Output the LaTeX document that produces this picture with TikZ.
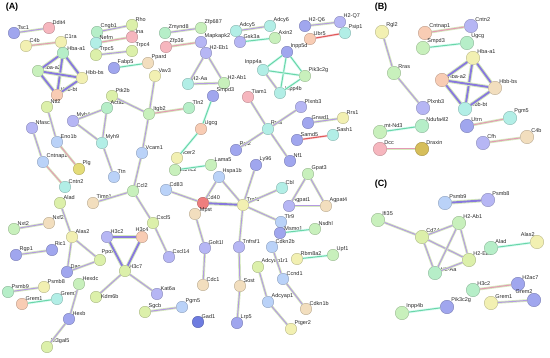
\documentclass[tikz,border=0pt]{standalone}
\usepackage{fontspec}
\setmainfont{Liberation Sans}
\definecolor{lav}{HTML}{B6B6F4}
\definecolor{blu}{HTML}{A0A6EE}
\definecolor{dblu}{HTML}{6E7CE0}
\definecolor{lblu}{HTML}{BAD2F8}
\definecolor{cyn}{HTML}{B2EEE6}
\definecolor{lgrn}{HTML}{C8F0BC}
\definecolor{grn}{HTML}{B6EEC8}
\definecolor{ygrn}{HTML}{DCF0AA}
\definecolor{yel}{HTML}{F2F0B2}
\definecolor{dyel}{HTML}{E4DC78}
\definecolor{tan}{HTML}{F2DEBE}
\definecolor{pch}{HTML}{F8CCB4}
\definecolor{pnk}{HTML}{F6B6BE}
\definecolor{rd}{HTML}{EE7E7E}
\definecolor{olv}{HTML}{D6BE5A}
\definecolor{epur}{HTML}{B49AE2}
\definecolor{ehalo}{HTML}{D6EABE}
\definecolor{egrn}{HTML}{6AD6A8}
\definecolor{epnk}{HTML}{E49AB4}
\definecolor{ered}{HTML}{E05A5A}
\definecolor{ethk}{HTML}{8878DE}
\newcommand\gn[5][45]{\node[gene,fill=#5,draw=#5!78!black,label={[lbl]#1:#4}] (#2) at (#3) {};}
\begin{document}
\begin{tikzpicture}[x=1pt,y=-1pt,
  gene/.style={circle,minimum size=11.5pt,inner sep=0pt,line width=0.4pt},
  big/.style={gene/.append style={minimum size=13.5pt}},
  lbl/.style={font=\fontsize{5.5}{6}\selectfont,inner sep=0.3pt,text=black!85},
  label distance=-1.4pt,
  e/.style={draw=epur,line width=1pt,preaction={draw=ehalo,line width=2.6pt}},
  eg/.style={draw=egrn,line width=1pt,preaction={draw=ehalo!60!cyan!30,line width=2.6pt}},
  ep/.style={draw=epnk,line width=1pt,preaction={draw=ehalo,line width=2.6pt}},
  er/.style={draw=ered,line width=1.1pt,preaction={draw=pnk!50,line width=2.4pt}},
  et/.style={draw=ethk,line width=1.9pt,preaction={draw=ehalo,line width=3.8pt}},
  panel/.style={font=\bfseries\fontsize{9}{10}\selectfont,inner sep=0pt}]
\useasboundingbox (0,0) rectangle (550,358);
\node[panel] (pA) at (12,7) {(A)};
\node[panel] (pB) at (381,7) {(B)};
\node[panel] (pC) at (381,184) {(C)};
% ---------------- Panel A nodes
\gn{aTsc1}{14,33}{Tsc1}{blu}
\gn{aDdit4}{49,28}{Ddit4}{pnk}
\gn{aC4b}{26,46}{C4b}{yel}
\gn{aC1ra}{61,42}{C1ra}{yel}
\gn[30]{aHbaa1}{63,53}{Hba-a1}{grn}
\gn[15]{aHbaa2}{38,71}{Hba-a2}{lgrn}
\gn[40]{aHbbbs}{82,78}{Hbb-bs}{yel}
\gn{aHbbbt}{57,95}{Hbb-bt}{pch}
\gn{aCngb1}{97,32}{Cngb1}{grn}
\gn{aNefm}{96,43}{Nefm}{cyn}
\gn{aTrpc5}{96,55}{Trpc5}{ygrn}
\gn{aRho}{132,25}{Rho}{ygrn}
\gn{aIna}{132,37}{Ina}{pnk}
\gn{aTrpc4}{132,51}{Trpc4}{ygrn}
\gn{aFabp5}{114,68}{Fabp5}{blu}
\gn{aPpard}{148,63}{Ppard}{tan}
\gn{aVav3}{155,76}{Vav3}{yel}
\gn{aPtk2b}{112,96}{Ptk2b}{ygrn}
\gn{aZmynd8}{165,33}{Zmynd8}{grn}
\gn{aZfp36}{166,47}{Zfp36}{pnk}
\gn{aZfp687}{201,28}{Zfp687}{lgrn}
\gn{aMapkapk2}{201,42}{Mapkapk2}{lav}
\gn{aH2Eb1}{206,53}{H2-Eb1}{lav}
\gn{aH2Aa}{188,84}{H2-Aa}{cyn}
\gn{aH2Ab1}{224,83}{H2-Ab1}{lgrn}
\gn{aSmpd3}{213,96}{Smpd3}{blu}
\gn{aAdcy5}{236,31}{Adcy5}{cyn}
\gn{aAdcy6}{270,26}{Adcy6}{cyn}
\gn{aGsk3a}{240,42}{Gsk3a}{lav}
\gn{aAxin2}{275,38}{Axin2}{lgrn}
\gn{aH2Q6}{305,26}{H2-Q6}{blu}
\gn{aH2Q7}{340,22}{H2-Q7}{lav}
\gn{aUbr5}{310,39}{Ubr5}{pch}
\gn{aPsip1}{345,33}{Psip1}{cyn}
\gn{aInpp5d}{287,52}{Inpp5d}{blu}
\gn[100]{aInpp4a}{263,70}{Inpp4a}{cyn}
\gn{aPik3c2g}{305,76}{Pik3c2g}{lgrn}
\gn[10]{aInpp4b}{280,93}{Inpp4b}{cyn}
\gn{aTiam1}{248,97}{Tiam1}{pnk}
\gn{aNtl2}{47,107}{Ntl2}{ygrn}
\gn{aNfasc}{32,128}{Nfasc}{lav}
\gn{aEno1b}{57,142}{Eno1b}{lblu}
\gn{aCntnap1}{43,162}{Cntnap1}{lblu}
\gn{aPlg}{79,169}{Plg}{dyel}
\gn{aCntn2}{65,187}{Cntn2}{cyn}
\gn{aMyh4}{73,121}{Myh4}{lav}
\gn{aActa2}{107,108}{Acta2}{grn}
\gn{aMyh9}{102,143}{Myh9}{cyn}
\gn{aTtn}{114,177}{Ttn}{lblu}
\gn[30]{aItgb2}{149,114}{Itgb2}{lgrn}
\gn{aTln2}{189,108}{Tln2}{grn}
\gn{aUgcg}{201,129}{Ugcg}{pch}
\gn{aVcam1}{142,153}{Vcam1}{lblu}
\gn{aAcer2}{177,158}{Acer2}{yel}
\gn[0]{aLamc2}{175,170}{Lamc2}{lgrn}
\gn{aLama5}{211,165}{Lama5}{lgrn}
\gn{aRgl2}{236,150}{Rgl2}{blu}
\gn{aHspa1b}{219,177}{Hspa1b}{lblu}
\gn{aCcl2}{133,191}{Ccl2}{lgrn}
\gn{aCd83}{166,190}{Cd83}{lblu}
\gn{aCd40}{203,203}{Cd40}{rd}
\gn[10]{aMpst}{195,214}{Mpst}{tan}
\gn{aCxcl5}{153,223}{Cxcl5}{ygrn}
\gn[90]{aH3c4}{142,237}{H3c4}{pch}
\gn{aCxcl14}{169,257}{Cxcl14}{lav}
\gn[30]{aH3c7}{125,271}{H3c7}{ygrn}
\gn{aGolt1l}{205,248}{Golt1l}{lav}
\gn{aCdc1}{203,285}{Cdc1}{tan}
\gn{aGad1}{198,322}{Gad1}{dblu}
\gn{aTnfrsf}{239,247}{Tnfrsf1}{lav}
\gn{aTraf6}{243,205}{Traf6}{yel}
\gn[60]{aRras}{268,129}{Rras}{cyn}
\gn{aPlxnb3}{301,107}{Plxnb3}{lav}
\gn{aGnwd1}{308,123}{Gnwd1}{blu}
\gn{aRrs1}{343,118}{Rrs1}{yel}
\gn{aSamd5}{297,140}{Samd5}{blu}
\gn{aSash1}{333,135}{Sash1}{cyn}
\gn{aNf1}{290,161}{Nf1}{blu}
\gn{aLy96}{256,165}{Ly96}{blu}
\gn{aGpat3}{308,174}{Gpat3}{lgrn}
\gn{aCbl}{282,188}{Cbl}{cyn}
\gn{aAgpat1}{289,206}{Agpat1}{lav}
\gn{aAgpat4}{326,206}{Agpat4}{tan}
\gn{aTlr9}{281,222}{Tlr9}{lblu}
\gn[30]{aMsmo1}{280,233}{Msmo1}{blu}
\gn{aNsdhl}{315,229}{Nsdhl}{lgrn}
\gn{aCdkn2b}{272,247}{Cdkn2b}{lblu}
\gn{aAdcyap1r1}{258,267}{Adcyap1r1}{ygrn}
\gn{aRbm8a2}{297,259}{Rbm8a2}{yel}
\gn{aUpf1}{333,255}{Upf1}{lgrn}
\gn{aCcnd1}{283,279}{Ccnd1}{lblu}
\gn{aSost}{240,286}{Sost}{tan}
\gn{aAdcyap1}{268,302}{Adcyap1}{lblu}
\gn{aCdkn1b}{306,309}{Cdkn1b}{tan}
\gn{aLrp5}{237,323}{Lrp5}{blu}
\gn{aPtger2}{291,329}{Ptger2}{yel}
\gn{aAlad}{60,203}{Alad}{ygrn}
\gn{aTimp1}{93,203}{Timp1}{tan}
\gn{aNxt2}{14,229}{Nxt2}{lgrn}
\gn{aNxf2}{49,223}{Nxf2}{tan}
\gn{aAlas2}{72,237}{Alas2}{yel}
\gn{aRgp1}{16,255}{Rgp1}{blu}
\gn[60]{aRic1}{52,250}{Ric1}{blu}
\gn{aH3c2}{107,237}{H3c2}{lav}
\gn[75]{aPpox}{100,260}{Ppox}{ygrn}
\gn{aDao}{67,272}{Dao}{blu}
\gn{aHexdc}{79,284}{Hexdc}{lgrn}
\gn{aPsmb9}{8,292}{Psmb9}{grn}
\gn{aPsmb8}{44,287}{Psmb8}{yel}
\gn{aGrem1}{22,304}{Grem1}{pch}
\gn{aGrem2}{57,299}{Grem2}{cyn}
\gn[0]{aKdm6b}{96,297}{Kdm6b}{ygrn}
\gn{aKat6a}{157,294}{Kat6a}{lav}
\gn{aHexb}{69,319}{Hexb}{blu}
\gn{aSt3gal5}{47,347}{St3gal5}{ygrn}
\gn{aSgcb}{145,312}{Sgcb}{ygrn}
\gn{aPgm5}{182,307}{Pgm5}{lblu}
% ---------------- Panel A edges
\draw[e] (aTsc1) -- (aDdit4);
\draw[ep] (aC4b) -- (aC1ra);
\draw[et] (aHbaa1) -- (aHbaa2);
\draw[et] (aHbaa1) -- (aHbbbs);
\draw[et] (aHbaa1) -- (aHbbbt);
\draw[et] (aHbaa2) -- (aHbbbs);
\draw[et] (aHbaa2) -- (aHbbbt);
\draw[et] (aHbbbs) -- (aHbbbt);
\draw[e] (aCngb1) -- (aRho);
\draw[ep] (aNefm) -- (aIna);
\draw[e] (aTrpc5) -- (aTrpc4);
\draw[eg] (aFabp5) -- (aPpard);
\draw[e] (aZmynd8) -- (aZfp687);
\draw[ep] (aZfp36) -- (aMapkapk2);
\draw[e] (aH2Eb1) -- (aH2Aa);
\draw[e] (aH2Eb1) -- (aH2Ab1);
\draw[e] (aH2Aa) -- (aH2Ab1);
\draw[e] (aAdcy5) -- (aAdcy6);
\draw[eg] (aGsk3a) -- (aAxin2);
\draw[e] (aH2Q6) -- (aH2Q7);
\draw[er] (aUbr5) -- (aPsip1);
\draw[eg] (aInpp5d) -- (aInpp4a);
\draw[eg] (aInpp5d) -- (aPik3c2g);
\draw[eg] (aInpp5d) -- (aInpp4b);
\draw[eg] (aInpp4a) -- (aPik3c2g);
\draw[e] (aInpp4a) -- (aInpp4b);
\draw[eg] (aPik3c2g) -- (aInpp4b);
\draw[e] (aNtl2) -- (aEno1b);
\draw[ep] (aEno1b) -- (aPlg);
\draw[e] (aNfasc) -- (aCntnap1);
\draw[ep] (aCntnap1) -- (aCntn2);
\draw[e] (aMyh4) -- (aActa2);
\draw[e] (aActa2) -- (aMyh9);
\draw[e] (aMyh4) -- (aMyh9);
\draw[e] (aMyh9) -- (aTtn);
\draw[e] (aPtk2b) -- (aItgb2);
\draw[e] (aVav3) -- (aItgb2);
\draw[ep] (aItgb2) -- (aTln2);
\draw[e] (aItgb2) -- (aVcam1);
\draw[e] (aVcam1) -- (aCcl2);
\draw[eg] (aSmpd3) -- (aUgcg);
\draw[eg] (aUgcg) -- (aAcer2);
\draw[eg] (aLamc2) -- (aLama5);
\draw[e] (aTiam1) -- (aRras);
\draw[e] (aRras) -- (aPlxnb3);
\draw[e] (aRras) -- (aRgl2);
\draw[e] (aRras) -- (aNf1);
\draw[e] (aGnwd1) -- (aRrs1);
\draw[er] (aSamd5) -- (aSash1);
\draw[e] (aTimp1) -- (aCcl2);
\draw[e] (aCcl2) -- (aCxcl5);
\draw[e] (aCxcl5) -- (aCxcl14);
\draw[e] (aCd83) -- (aCd40);
\draw[et] (aCd40) -- (aTraf6);
\draw[e] (aHspa1b) -- (aCd40);
\draw[e] (aHspa1b) -- (aTraf6);
\draw[e] (aMpst) -- (aGolt1l);
\draw[e] (aGolt1l) -- (aCdc1);
\draw[e] (aLy96) -- (aTraf6);
\draw[e] (aCbl) -- (aTraf6);
\draw[e] (aTlr9) -- (aTraf6);
\draw[e] (aTraf6) -- (aTnfrsf);
\draw[e] (aTnfrsf) -- (aSost);
\draw[e] (aSost) -- (aLrp5);
\draw[e] (aGpat3) -- (aAgpat1);
\draw[e] (aGpat3) -- (aAgpat4);
\draw[e] (aAgpat1) -- (aAgpat4);
\draw[eg] (aMsmo1) -- (aNsdhl);
\draw[e] (aCdkn2b) -- (aCcnd1);
\draw[e] (aCcnd1) -- (aCdkn1b);
\draw[e] (aAdcyap1r1) -- (aAdcyap1);
\draw[e] (aAdcyap1) -- (aPtger2);
\draw[eg] (aRbm8a2) -- (aUpf1);
\draw[e] (aAlad) -- (aAlas2);
\draw[e] (aAlas2) -- (aPpox);
\draw[e] (aAlas2) -- (aDao);
\draw[e] (aDao) -- (aPpox);
\draw[e] (aNxt2) -- (aNxf2);
\draw[e] (aRgp1) -- (aRic1);
\draw[et] (aH3c2) -- (aH3c4);
\draw[et] (aH3c2) -- (aH3c7);
\draw[et] (aH3c4) -- (aH3c7);
\draw[e] (aH3c7) -- (aKdm6b);
\draw[e] (aH3c7) -- (aKat6a);
\draw[e] (aPsmb9) -- (aPsmb8);
\draw[eg] (aGrem1) -- (aGrem2);
\draw[e] (aHexdc) -- (aHexb);
\draw[e] (aHexb) -- (aSt3gal5);
\draw[e] (aSgcb) -- (aPgm5);
% ---------------- Panel B
\begin{scope}[big]
\gn{bRgl2}{382,32}{Rgl2}{yel}
\gn{bCntnap1}{425,33}{Cntnap1}{pch}
\gn{bCntn2}{471,26}{Cntn2}{lav}
\gn{bSmpd3}{423,48}{Smpd3}{lgrn}
\gn{bUgcg}{467,43}{Ugcg}{grn}
\gn{bHbaa1}{473,58}{Hba-a1}{yel}
\gn[15]{bHbaa2}{442,80}{Hba-a2}{pch}
\gn{bHbbbs}{495,88}{Hbb-bs}{tan}
\gn[20]{bHbbbt}{465,109}{Hbb-bt}{cyn}
\gn{bRras}{394,73}{Rras}{lgrn}
\gn{bPlxnb3}{423,108}{Plxnb3}{lav}
\gn{bNdufa4l2}{422,126}{Ndufa4l2}{grn}
\gn{bUtrn}{467,126}{Utrn}{blu}
\gn{bPgm5}{510,118}{Pgm5}{cyn}
\gn{bmtNd3}{380,132}{mt-Nd3}{lgrn}
\gn{bDcc}{380,149}{Dcc}{pnk}
\gn{bDraxin}{422,149}{Draxin}{olv}
\gn{bCfh}{483,143}{Cfh}{lav}
\gn{bC4b}{527,137}{C4b}{tan}
\end{scope}
\draw[e] (bRgl2) -- (bRras);
\draw[e] (bRras) -- (bPlxnb3);
\draw[ep] (bCntnap1) -- (bCntn2);
\draw[eg] (bSmpd3) -- (bUgcg);
\draw[et] (bHbaa1) -- (bHbaa2);
\draw[et] (bHbaa1) -- (bHbbbs);
\draw[et] (bHbaa1) -- (bHbbbt);
\draw[et] (bHbaa2) -- (bHbbbs);
\draw[et] (bHbaa2) -- (bHbbbt);
\draw[et] (bHbbbs) -- (bHbbbt);
\draw[eg] (bmtNd3) -- (bNdufa4l2);
\draw[ep] (bDcc) -- (bDraxin);
\draw[ep] (bUtrn) -- (bPgm5);
\draw[ep] (bCfh) -- (bC4b);
% ---------------- Panel C
\begin{scope}[big]
\gn{cPsmb9}{445,203}{Psmb9}{lblu}
\gn{cPsmb8}{488,200}{Psmb8}{lav}
\gn{cIfi35}{378,220}{Ifi35}{lgrn}
\gn{cCd74}{422,237}{Cd74}{ygrn}
\gn{cH2Ab1}{459,223}{H2-Ab1}{lgrn}
\gn{cH2Eb1}{469,260}{H2-Eb1}{ygrn}
\gn[15]{cH2Aa}{435,273}{H2-Aa}{grn}
\gn{cAlad}{491,248}{Alad}{grn}
\gn[110]{cAlas2}{537,242}{Alas2}{yel}
\gn{cH3c2}{473,290}{H3c2}{grn}
\gn{cH2ac7}{518,284}{H2ac7}{blu}
\gn{cGrem1}{491,303}{Grem1}{yel}
\gn[100]{cGrem2}{534,300}{Grem2}{blu}
\gn{cInpp4b}{402,313}{Inpp4b}{lgrn}
\gn{cPik3c2g}{447,307}{Pik3c2g}{blu}
\end{scope}
\draw[et] (cPsmb9) -- (cPsmb8);
\draw[e] (cIfi35) -- (cCd74);
\draw[e] (cCd74) -- (cH2Ab1);
\draw[e] (cCd74) -- (cH2Eb1);
\draw[e] (cCd74) -- (cH2Aa);
\draw[e] (cH2Ab1) -- (cH2Eb1);
\draw[e] (cH2Ab1) -- (cH2Aa);
\draw[e] (cH2Eb1) -- (cH2Aa);
\draw[eg] (cAlad) -- (cAlas2);
\draw[ep] (cH3c2) -- (cH2ac7);
\draw[e] (cGrem1) -- (cGrem2);
\draw[eg] (cInpp4b) -- (cPik3c2g);
\end{tikzpicture}
\end{document}
